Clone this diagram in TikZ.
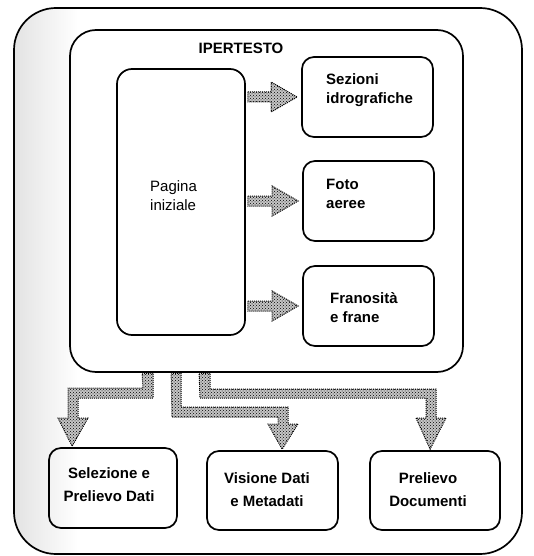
\documentclass[tikz,border=0pt]{standalone}
\usepackage{fontspec}
\setmainfont{Liberation Sans}
\usetikzlibrary{calc,patterns}
\begin{document}
\begin{tikzpicture}[x=1pt,y=-1pt,
  box/.style={draw, line width=1.7pt, rounded corners=12pt, inner sep=0pt},
  lbl/.style={font=\bfseries\fontsize{15}{19}\selectfont, align=left, inner sep=0pt},
  clbl/.style={font=\bfseries\fontsize{15}{23}\selectfont, align=center, inner sep=0pt},
  blk/.style={draw=black, densely dotted, line width=1pt, preaction={fill=gray!45}, pattern=crosshatch dots, pattern color=black}]
\useasboundingbox (0,0) rectangle (534,556);
% faint stippled shadow on the left
\begin{scope}
\clip[rounded corners=42pt] (14,8) rectangle (522,554);
\shade[left color=gray!22, right color=white] (14,8) rectangle (78,554);
\end{scope}
% boxes
\node[box, rounded corners=42pt, minimum width=508, minimum height=546] (outer) at (268,281) {};
\node[box, rounded corners=26pt, minimum width=393, minimum height=342] (ip) at (266.5,201) {};
\node[box, rounded corners=15pt, minimum width=128, minimum height=266] (pag) at (181,202) {};
\node[box, minimum width=131, minimum height=80] (sez) at (367.5,97) {};
\node[box, minimum width=131, minimum height=80] (foto) at (368.5,201) {};
\node[box, minimum width=131, minimum height=80] (fran) at (368.5,306) {};
\node[box, minimum width=128, minimum height=80] (sel) at (113,488) {};
\node[box, minimum width=131, minimum height=79] (vis) at (272.5,490.5) {};
\node[box, minimum width=130, minimum height=79] (pre) at (435,490.5) {};
% texts
\node[lbl] (tip) at (241,48) {IPERTESTO};
\node[lbl, font=\fontsize{15}{19}\selectfont, anchor=west] (tpag) at (150,195.5) {Pagina\\iniziale};
\node[lbl, anchor=west] (tsez) at (326,90.5) {Sezioni\\idrografiche};
\node[lbl, anchor=west] (tfoto) at (326,193.5) {Foto\\aeree};
\node[lbl, anchor=west] (tfran) at (330,308) {Franosità\\e frane};
\node[clbl] (tsel) at (109,485) {Selezione e\\Prelievo Dati};
\node[clbl] (tvis) at (267,490) {Visione Dati\\e Metadati};
\node[clbl] (tpre) at (428,489.5) {Prelievo\\Documenti};
% horizontal block arrows
\foreach \t in {sez,foto,fran}{
  \path (pag.east |- \t.west) coordinate (s) (\t.west) coordinate (e);
  \draw[blk] ($(s)+(2,-5)$) -- ($(e)+(-30,-5)$) -- ($(e)+(-30,-15)$) -- ($(e)+(-4,0)$)
     -- ($(e)+(-30,15)$) -- ($(e)+(-30,5)$) -- ($(s)+(2,5)$) -- cycle;
}
% bottom block arrows
\draw[blk] ($(ip.south west)+(73,1)$) -- (153,373) -- (153,398) -- (78,398) -- (78,418) -- (88,418)
   -- ($(sel.north west)+(24,-1)$) -- (58,418) -- (68,418) -- (68,388) -- (143,388) -- cycle;
\draw[blk] ($(ip.south west)+(102,1)$) -- (181,373) -- (181,407) -- (288,407) -- (288,424) -- (298,424)
   -- ($(vis.north west)+(76,-1)$) -- (268,424) -- (278,424) -- (278,417) -- (172,417) -- cycle;
\draw[blk] ($(ip.south west)+(130,1)$) -- (210,373) -- (210,389) -- (436,389) -- (436,418) -- (446,418)
   -- ($(pre.north west)+(61,-1)$) -- (416,418) -- (426,418) -- (426,398) -- (200,398) -- cycle;
\end{tikzpicture}
\end{document}
